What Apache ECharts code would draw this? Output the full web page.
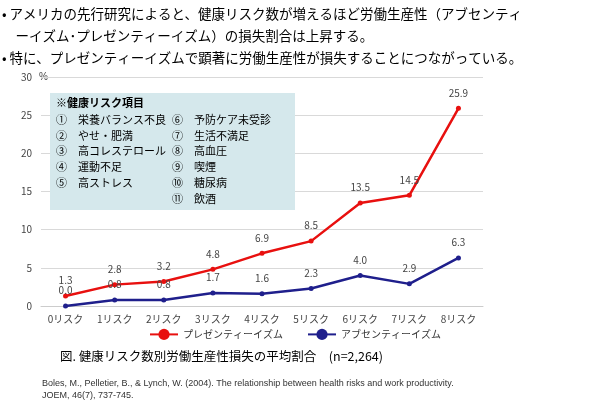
<!DOCTYPE html>
<html>
<head>
<meta charset="utf-8">
<script src="https://cdn.jsdelivr.net/npm/echarts@6/dist/echarts.min.js"></script>
<style>
  html, body { margin: 0; padding: 0; background: #fff; }
  #main { width: 590px; height: 412px; }
</style>
</head>
<body>
<div id="main"></div>
<script>
// データ
var categories = ['0リスク', '1リスク', '2リスク', '3リスク', '4リスク', '5リスク', '6リスク', '7リスク', '8リスク'];
var presenteeism = [1.3, 2.8, 3.2, 4.8, 6.9, 8.5, 13.5, 14.5, 25.9];
var absenteeism = [0.0, 0.8, 0.8, 1.7, 1.6, 2.3, 4.0, 2.9, 6.3];
var riskLeft = ['①　栄養バランス不良', '②　やせ・肥満', '③　高コレステロール', '④　運動不足', '⑤　高ストレス'];
var riskRight = ['⑥　予防ケア未受診', '⑦　生活不満足', '⑧　高血圧', '⑨　喫煙', '⑩　糖尿病', '⑪　飲酒'];

var jp = '"Noto Sans CJK JP", sans-serif';
var myChart = echarts.init(document.getElementById('main'));

var graphics = [
  { type: 'text', left: 2, top: 3, style: { text: '• アメリカの先行研究によると、健康リスク数が増えるほど労働生産性（アブセンティ\n　ーイズム･プレゼンティーイズム）の損失割合は上昇する。\n• 特に、プレゼンティーイズムで顕著に労働生産性が損失することにつながっている。', font: '13.5px ' + jp, fill: '#000', lineHeight: 22 } },
  { type: 'rect', shape: { x: 50, y: 93, width: 245, height: 117 }, style: { fill: '#d5e8ec' }, z: 5 },
  { type: 'text', left: 56, top: 97, z: 6, style: { text: '※健康リスク項目', font: 'bold 11px ' + jp, fill: '#000' } },
  { type: 'text', left: 56, top: 112, z: 6, style: { text: riskLeft.join('\n'), font: '11px ' + jp, fill: '#000', lineHeight: 15.7 } },
  { type: 'text', left: 172, top: 112, z: 6, style: { text: riskRight.join('\n'), font: '11px ' + jp, fill: '#000', lineHeight: 15.7 } },
  { type: 'text', left: 60, top: 350, style: { text: '図. 健康リスク数別労働生産性損失の平均割合　(n=2,264)', font: '12.5px ' + jp, fill: '#000' } },
  { type: 'text', left: 42, top: 378, style: { text: 'Boles, M., Pelletier, B., & Lynch, W. (2004). The relationship between health risks and work productivity.\nJOEM, 46(7), 737-745.', font: '9px "Liberation Sans", sans-serif', fill: '#333', lineHeight: 12 } },
  { type: 'text', left: 39, top: 72, style: { text: '%', font: '10px "Liberation Sans", sans-serif', fill: '#444' } }
];

var option = {
  animation: false,
  textStyle: { fontFamily: jp },
  graphic: graphics,
  legend: {
    bottom: 67,
    left: 'center',
    itemWidth: 28,
    itemGap: 24,
    textStyle: { fontSize: 10, color: '#333' },
    data: ['プレゼンティーイズム', 'アブセンティーイズム']
  },
  grid: { left: 41, right: 107, top: 77, bottom: 106 },
  xAxis: {
    type: 'category',
    data: categories,
    axisTick: { show: false },
    axisLine: { lineStyle: { color: '#ccc' } },
    axisLabel: { color: '#444', fontSize: 10 }
  },
  yAxis: {
    type: 'value',
    min: 0, max: 30, interval: 5,
    axisLabel: { color: '#444', fontSize: 10, margin: 9 },
    splitLine: { lineStyle: { color: '#d9d9d9' } }
  },
  series: [
    {
      name: 'プレゼンティーイズム', type: 'line', data: presenteeism,
      color: '#e8100f', symbol: 'circle', symbolSize: 5,
      lineStyle: { width: 2.5 },
      label: { show: true, position: 'top', distance: 8, color: '#444', fontSize: 10, formatter: function (p) { return p.value.toFixed(1); } }
    },
    {
      name: 'アブセンティーイズム', type: 'line', data: absenteeism,
      color: '#1f1f8c', symbol: 'circle', symbolSize: 5,
      lineStyle: { width: 2.5 },
      label: { show: true, position: 'top', distance: 8, color: '#444', fontSize: 10, formatter: function (p) { return p.value.toFixed(1); } }
    }
  ]
};
myChart.setOption(option);
</script>
</body>
</html>
